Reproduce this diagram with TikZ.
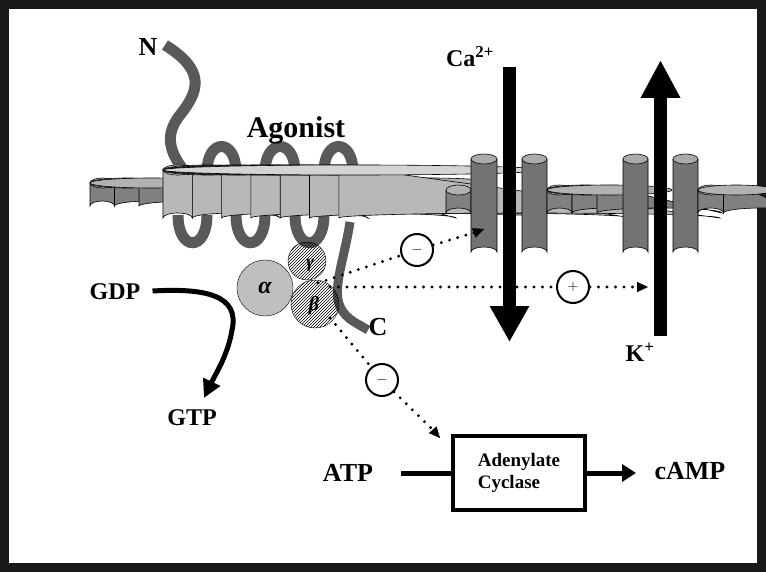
\documentclass[tikz,border=0pt]{standalone}
\usepackage{fontspec}
\setmainfont{Liberation Serif}
\usetikzlibrary{arrows.meta,patterns}
\colorlet{smallc}{black!50}
\colorlet{tallc}{black!55}
\colorlet{recc}{black!28}
\newcommand\mycyl[5]{%
  \fill[#5] (#1,#3) -- (#1,#4) arc[start angle=180,end angle=360,x radius={(#2-#1)/2},y radius=5] -- (#2,#3) -- cycle;
  \draw[line width=0.6pt] (#1,#3) -- (#1,#4) arc[start angle=180,end angle=360,x radius={(#2-#1)/2},y radius=5] -- (#2,#3);
  \draw[line width=0.6pt,fill=#5!60!white] ({(#1+#2)/2},#3) ellipse[x radius={(#2-#1)/2},y radius=5];
}
\begin{document}
\begin{tikzpicture}[x=1pt,y=-1pt,
  lbl/.style={font=\bfseries,inner sep=0pt},
  dots/.style={line width=3.2pt,line cap=round,dash pattern=on 0pt off 8.5pt},
  dtip/.style={-{Triangle[length=11pt,width=10pt]}},
  sign/.style={circle,draw,line width=2pt,minimum size=32pt,inner sep=0pt,font=\Large},
  ribbon/.style={line width=11pt,color=black!65,line cap=butt}]
\useasboundingbox (0,0) rectangle (766,572);
\fill[black!90] (0,0) rectangle (766,572);
\fill[white] (9,9) rectangle (757,563);
% ribbon N tail and loops (behind)
\draw[ribbon] (165,45) .. controls (205,70) and (200,90) .. (180,115) .. controls (160,140) and (175,160) .. (190,178);
\foreach \a/\b in {207/236,265/295,324/353}{
  \draw[ribbon] (\a,172) .. controls (\a,138) and (\b,138) .. (\b,172);}
\foreach \a/\b in {178/207,236/265,295/324}{
  \draw[ribbon] (\a,215) .. controls (\a,252) and (\b,252) .. (\b,215);}
% membrane cylinders
\foreach \i in {0,1,2}{\mycyl{90+24.5*\i}{114.5+24.5*\i}{183}{206}{smallc}}
\foreach \i in {0,1,2}{\mycyl{368+25*\i}{393+25*\i}{183}{206}{smallc}}
\foreach \i in {0,...,6}{\mycyl{163+29.3*\i}{192.3+29.3*\i}{170}{218}{recc}}
\mycyl{446}{471}{190}{213}{smallc}
\mycyl{471}{497}{159}{252}{tallc}
\mycyl{522}{547}{159}{252}{tallc}
\foreach \i in {0,1,2}{\mycyl{547+25*\i}{572+25*\i}{190}{213}{smallc}}
\mycyl{623}{648}{159}{252}{tallc}
\mycyl{673}{698}{159}{252}{tallc}
\foreach \i in {0,1}{\mycyl{698+25.5*\i}{723.5+25.5*\i}{190}{213}{smallc}}
% C tail
\draw[ribbon,line width=9pt] (350,222) .. controls (345,255) and (335,280) .. (338,300) .. controls (342,318) and (355,322) .. (368,330);
\node[lbl,font=\bfseries\fontsize{30}{30}\selectfont] (ag) at (296,130) {Agonist};
\node[lbl,font=\bfseries\fontsize{26}{26}\selectfont] (N) at (148,47) {N};
\node[lbl,font=\bfseries\fontsize{26}{26}\selectfont] (C) at (378,327) {C};
% G protein
\node[circle,draw,fill=black!25,minimum size=56pt,inner sep=0pt,font=\bfseries\itshape\fontsize{24}{24}\selectfont] (al) at (265,288) {α};
\node[circle,draw,pattern=north east lines,minimum size=38pt,inner sep=0pt] (ga) at (307,261) {};
\node[circle,draw,pattern=north east lines,minimum size=48pt,inner sep=0pt] (be) at (315,304) {};
\node[font=\bfseries\itshape\fontsize{18}{18}\selectfont] (gl) at (310,265) {γ};
\node[font=\bfseries\itshape\fontsize{20}{20}\selectfont] (bl) at (314,306) {β};
% ion arrows
\node[lbl,font=\bfseries\fontsize{24}{24}\selectfont] (ca) at (470,57) {Ca\textsuperscript{2+}};
\node[lbl,font=\bfseries\fontsize{24}{24}\selectfont] (k) at (640,352) {K\textsuperscript{+}};
\coordinate (cat) at (509.5,67);
\coordinate (cab) at (509.5,342);
\coordinate (kb) at (660.5,336);
\coordinate (kt) at (660.5,60);
\draw[line width=13pt,-{Triangle[length=36pt,width=37pt]}] (cat) -- (cab);
\draw[line width=13pt,-{Triangle[length=38pt,width=37pt]}] (kb) -- (kt);
% signals
\node[sign] (m1) at (417,250) {$-$};
\node[sign] (p1) at (573,287) {$+$};
\node[sign] (m2) at (382,380) {$-$};
\coordinate (s1) at (318,283);
\coordinate (t1) at (484,229);
\coordinate (s2) at (330,287);
\coordinate (t2) at (648,287);
\coordinate (s3) at (330,318);
\coordinate (t3) at (440,438);
\draw[dots] (s1) -- (m1);
\draw[dots] (m1) -- ([shift={(-8,3)}]t1);
\draw[dtip] ([shift={(-6,2.3)}]t1) -- (t1);
\draw[dots] (s2) -- (p1);
\draw[dots] (p1) -- ([shift={(-9,0)}]t2);
\draw[dtip] ([shift={(-4,0)}]t2) -- (t2);
\draw[dots] (s3) -- (m2);
\draw[dots] (m2) -- ([shift={(-7,-8)}]t3);
\draw[dtip] ([shift={(-4,-4.5)}]t3) -- (t3);
% GDP / GTP
\node[lbl,font=\bfseries\fontsize{24}{24}\selectfont] (gdp) at (115,292) {GDP};
\node[lbl,font=\bfseries\fontsize{24}{24}\selectfont] (gtp) at (192,418) {GTP};
\draw[line width=5pt,-{Triangle[length=18pt,width=18pt]}] ([shift={(12,-1)}]gdp.east) .. controls (205,288) and (240,295) .. (232,330) .. controls (228,355) and (215,375) .. (204,398);
% adenylate cyclase
\node[draw,line width=4.5pt,minimum width=132pt,minimum height=74pt,inner sep=0pt,align=left,font=\bfseries\fontsize{19}{22}\selectfont] (ac) at (519,473) {Adenylate\\Cyclase};
\node[lbl,font=\bfseries\fontsize{26}{26}\selectfont] (atp) at (348,473) {ATP};
\node[lbl,font=\bfseries\fontsize{26}{26}\selectfont] (camp) at (690,471) {cAMP};
\draw[line width=5pt] (401,473) -- (ac.west);
\draw[line width=5pt,-{Triangle[length=14pt,width=17pt]}] (ac.east) -- (636,473);
\end{tikzpicture}
\end{document}
